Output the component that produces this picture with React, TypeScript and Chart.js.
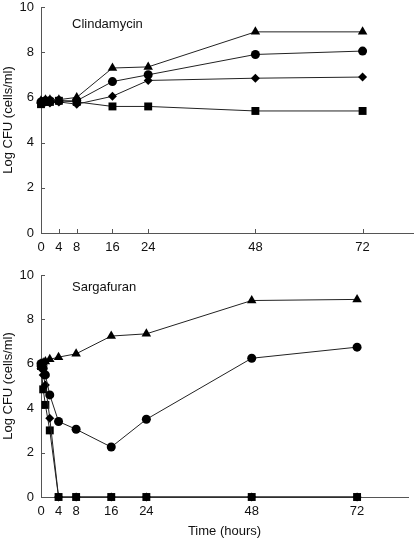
import React, { useEffect, useRef } from "react";
import { Chart, registerables } from "chart.js";
Chart.register(...registerables);

const X_TICKS = [0, 4, 8, 16, 24, 48, 72];
const X_MAX = 83.6;

const clindaTimes = [0, 1, 2, 4, 8, 16, 24, 48, 72];
const clindaTriangle = [5.85, 5.9, 5.9, 5.9, 6.0, 7.3, 7.35, 8.9, 8.9];
const clindaCircle = [5.8, 5.85, 5.85, 5.85, 5.85, 6.7, 7.0, 7.9, 8.05];
const clindaDiamond = [5.75, 5.8, 5.75, 5.8, 5.7, 6.05, 6.75, 6.85, 6.9];
const clindaSquare = [5.7, 5.8, 5.8, 5.85, 5.8, 5.6, 5.6, 5.4, 5.4];

const sargaTimes = [0, 0.5, 1, 2, 4, 8, 16, 24, 48, 72];
const sargaTriangle = [6.0, 6.05, 6.1, 6.2, 6.3, 6.45, 7.25, 7.35, 8.85, 8.9];
const sargaCircle = [6.0, 5.8, 5.5, 4.6, 3.4, 3.05, 2.25, 3.5, 6.25, 6.75];
const sargaDiamond = [5.8, 5.5, 5.05, 3.55, 0, 0, 0, 0, 0, 0];
const sargaSquare = [5.9, 4.85, 4.15, 3.0, 0, 0, 0, 0, 0, 0];

const FONT = "'Liberation Sans', Arial, Helvetica, sans-serif";

function ds(label: string, times: number[], values: number[], style: string, radius: number) {
  return {
    label,
    data: times.map((t, i) => ({ x: t, y: values[i] })),
    pointStyle: style,
    pointRadius: radius,
    pointHoverRadius: radius,
    pointBackgroundColor: "#000",
    pointBorderColor: "#000",
    pointBorderWidth: 0,
    borderColor: "#222",
    borderWidth: 1,
    tension: 0,
    fill: false,
    clip: false,
  };
}

const inwardTicks = {
  id: "inwardTicks",
  beforeDatasetsDraw(chart: any) {
    const { ctx, chartArea, scales } = chart;
    const x = scales.x;
    const y = scales.y;
    ctx.save();
    ctx.strokeStyle = "#555";
    ctx.lineWidth = 1;
    ctx.beginPath();
    y.ticks.forEach((t: any) => {
      if (t.value === 0) return;
      const py = Math.round(y.getPixelForValue(t.value)) + 0.5;
      ctx.moveTo(chartArea.left, py);
      ctx.lineTo(chartArea.left + 4, py);
    });
    x.ticks.forEach((t: any) => {
      if (t.value === 0) return;
      const px = Math.round(x.getPixelForValue(t.value)) + 0.5;
      ctx.moveTo(px, chartArea.bottom);
      ctx.lineTo(px, chartArea.bottom - 4);
    });
    ctx.stroke();
    ctx.restore();
  },
};

const panelLabel = {
  id: "panelLabel",
  afterDraw(chart: any, _args: any, opts: any) {
    if (!opts || !opts.text) return;
    const { ctx } = chart;
    ctx.save();
    ctx.font = `13px ${FONT}`;
    ctx.fillStyle = "#111";
    ctx.textBaseline = "middle";
    ctx.textAlign = "left";
    ctx.fillText(opts.text, opts.x, opts.y);
    ctx.restore();
  },
};

function makeOptions(cfg: {
  title: string;
  titleX: number;
  titleY: number;
  top: number;
  right: number;
  xHeight: number;
  xTitle?: string;
}) {
  return {
    animation: false,
    responsive: false,
    maintainAspectRatio: false,
    events: [],
    layout: { padding: { top: cfg.top, right: cfg.right, left: 0, bottom: 0 } },
    plugins: {
      legend: { display: false },
      tooltip: { enabled: false },
      panelLabel: { text: cfg.title, x: cfg.titleX, y: cfg.titleY },
    },
    scales: {
      x: {
        type: "linear",
        min: 0,
        max: X_MAX,
        grid: { display: false, drawTicks: false },
        border: { display: true, color: "#555", width: 1 },
        afterBuildTicks: (scale: any) => {
          scale.ticks = X_TICKS.map((v) => ({ value: v }));
        },
        afterFit: (scale: any) => {
          scale.height = cfg.xHeight;
          scale.paddingLeft = 0;
          scale.paddingRight = 0;
        },
        ticks: {
          autoSkip: false,
          maxRotation: 0,
          padding: 7,
          color: "#111",
          font: { family: FONT, size: 13 },
          callback: (v: any) => String(v),
        },
        title: cfg.xTitle
          ? {
              display: true,
              text: cfg.xTitle,
              color: "#111",
              font: { family: FONT, size: 13 },
              padding: { top: 0, bottom: 0 },
            }
          : { display: false },
      },
      y: {
        type: "linear",
        min: 0,
        max: 10,
        grid: { display: false, drawTicks: false },
        border: { display: true, color: "#555", width: 1 },
        afterFit: (scale: any) => {
          scale.width = 41;
          scale.paddingTop = 0;
          scale.paddingBottom = 0;
        },
        ticks: {
          stepSize: 2,
          padding: 7,
          color: "#111",
          font: { family: FONT, size: 13 },
        },
        title: {
          display: true,
          text: "Log CFU (cells/ml)",
          color: "#111",
          font: { family: FONT, size: 13 },
          padding: { top: 1, bottom: 0 },
        },
      },
    },
  };
}

function Panel(props: {
  width: number;
  height: number;
  times: number[];
  tri: number[];
  cir: number[];
  dia: number[];
  sq: number[];
  opts: any;
}) {
  const ref = useRef<HTMLCanvasElement>(null);
  useEffect(() => {
    if (!ref.current) return;
    const chart = new Chart(ref.current, {
      type: "line",
      data: {
        datasets: [
          ds("triangle", props.times, props.tri, "triangle", 5.5),
          ds("circle", props.times, props.cir, "circle", 4.5),
          ds("diamond", props.times, props.dia, "rectRot", 4.5),
          ds("square", props.times, props.sq, "rect", 5.6),
        ] as any,
      },
      options: props.opts as any,
      plugins: [inwardTicks, panelLabel],
    });
    return () => chart.destroy();
  }, []);
  return (
    <canvas
      ref={ref}
      width={props.width}
      height={props.height}
      style={{ display: "block", width: props.width, height: props.height }}
    />
  );
}

export default function App() {
  useEffect(() => {
    document.body.style.margin = "0";
    document.body.style.overflow = "hidden";
  }, []);
  return (
    <div style={{ width: 414, height: 539, background: "#fff", overflow: "hidden" }}>
      <Panel
        width={420}
        height={260}
        times={clindaTimes}
        tri={clindaTriangle}
        cir={clindaCircle}
        dia={clindaDiamond}
        sq={clindaSquare}
        opts={makeOptions({
          title: "Clindamycin",
          titleX: 72,
          titleY: 24,
          top: 7,
          right: 0,
          xHeight: 27,
        })}
      />
      <Panel
        width={414}
        height={279}
        times={sargaTimes}
        tri={sargaTriangle}
        cir={sargaCircle}
        dia={sargaDiamond}
        sq={sargaSquare}
        opts={makeOptions({
          title: "Sargafuran",
          titleX: 72,
          titleY: 27,
          top: 15,
          right: 6,
          xHeight: 42,
          xTitle: "Time (hours)",
        })}
      />
    </div>
  );
}
